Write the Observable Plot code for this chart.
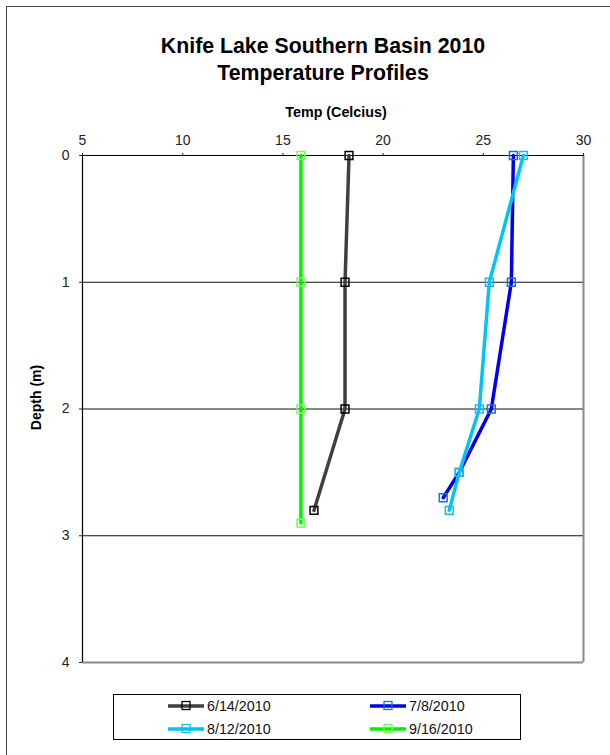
<!DOCTYPE html>
<html>
<head>
<meta charset="utf-8">
<script src="https://cdn.jsdelivr.net/npm/d3@7"></script>
<script src="https://cdn.jsdelivr.net/npm/@observablehq/plot@0.6"></script>
<style>
  html, body { margin: 0; padding: 0; background: #fff; }
  body { width: 610px; height: 755px; overflow: hidden; position: relative; font-family: "Liberation Sans", Arial, sans-serif; }
  #frame { position: absolute; left: 6px; top: 6px; width: 700px; height: 800px; border: 1.5px solid #444; }
  #title { position: absolute; left: 0; top: 33px; width: 646px; text-align: center; font-weight: bold; font-size: 21.3px; line-height: 27px; color: #000; }
  #chart { position: absolute; left: 0; top: 0; }
  #legend { position: absolute; left: 113px; top: 694px; width: 406px; height: 44px; border: 1px solid #000; background: #fff; }
  .item { position: absolute; height: 20px; display: flex; align-items: center; font-size: 14.3px; color: #111; }
  .item svg { display: block; margin-right: 2px; }
</style>
</head>
<body>
<div id="frame"></div>
<div id="title">Knife Lake Southern Basin 2010<br>Temperature Profiles</div>
<div id="chart"></div>
<div id="legend"></div>
<script>
// ---- data ----
const seriesNames = ["6/14/2010", "7/8/2010", "8/12/2010", "9/16/2010"];
const depths0614 = [0, 1, 2, 2.8];
const temps0614  = [18.3, 18.1, 18.1, 16.55];
const depths0708 = [0, 1, 2, 2.5, 2.7];
const temps0708  = [26.5, 26.4, 25.4, 23.8, 23.0];
const depths0812 = [0, 1, 2, 2.5, 2.8];
const temps0812  = [27.0, 25.3, 24.8, 23.8, 23.3];
const depths0916 = [0, 1, 2, 2.9];
const temps0916  = [15.9, 15.9, 15.9, 15.9];
const xTicks = [5, 10, 15, 20, 25, 30];
const yTicks = [0, 1, 2, 3, 4];
const xTitle = "Temp (Celcius)";
const yTitle = "Depth (m)";

const lineColors   = ["#404040", "#0000f0", "#00c4f4", "#00f000"];
const markerColors = ["#000000", "#1f70c8", "#1cb8ee", "#70ff50"];

const depthsAll = [depths0614, depths0708, depths0812, depths0916];
const tempsAll  = [temps0614, temps0708, temps0812, temps0916];
const seriesRows = seriesNames.map((name, i) =>
  depthsAll[i].map((d, j) => ({series: name, depth: d, temp: tempsAll[i][j]})));

const marks = [
  Plot.ruleY([1, 2, 3], {stroke: "#111", strokeWidth: 1}),
  Plot.ruleX([30], {stroke: "#8a8a8a", strokeWidth: 2}),
  Plot.ruleY([4], {stroke: "#8a8a8a", strokeWidth: 2}),
  Plot.ruleY([0], {stroke: "#000", strokeWidth: 1.2}),
  Plot.ruleX([5], {stroke: "#000", strokeWidth: 1.2})
];
seriesRows.forEach((rows, i) => {
  marks.push(Plot.line(rows, {x: "temp", y: "depth", stroke: lineColors[i], strokeWidth: 3.5}));
  marks.push(Plot.dot(rows, {x: "temp", y: "depth", symbol: "square", r: 4.4, stroke: markerColors[i], fill: "none", strokeWidth: 1.5}));
});
marks.push(
  Plot.axisX({anchor: "top", ticks: xTicks, tickSize: 3, tickPadding: 8, fontSize: 14, label: null, color: "#222", tickFormat: d => String(d)}),
  Plot.axisY({anchor: "left", ticks: yTicks, tickSize: 3, tickPadding: 10, fontSize: 14, label: null, color: "#222", tickFormat: d => String(d)}),
  Plot.text([xTitle], {frameAnchor: "top", dy: -48.5, dx: 3, fontWeight: "bold", fontSize: 14.3, fill: "#000"}),
  Plot.text([yTitle], {frameAnchor: "left", textAnchor: "middle", dx: -46, dy: -11.5, rotate: -90, fontWeight: "bold", fontSize: 14, fill: "#000"})
);

const chart = Plot.plot({
  width: 610,
  height: 680,
  marginTop: 155,
  marginBottom: 18,
  marginLeft: 82,
  marginRight: 27,
  style: {background: "none", fontFamily: "Liberation Sans, Arial, sans-serif", overflow: "visible"},
  x: {domain: [5, 30], axis: null},
  y: {domain: [0, 4], reverse: true, axis: null},
  marks
});
document.getElementById("chart").appendChild(chart);

// ---- legend ----
const legend = document.getElementById("legend");
const positions = [[53, 1], [255, 1], [53, 24], [255, 24]];
seriesNames.forEach((name, i) => {
  const item = document.createElement("div");
  item.className = "item";
  item.style.left = positions[i][0] + "px";
  item.style.top = positions[i][1] + "px";
  item.innerHTML = `<svg width="38" height="12"><line x1="1" y1="6" x2="37" y2="6" stroke="${lineColors[i]}" stroke-width="3.5"/><rect x="15" y="1.5" width="8" height="8" fill="none" stroke="${markerColors[i]}" stroke-width="1.3"/></svg><span>${name}</span>`;
  legend.appendChild(item);
});
</script>
</body>
</html>
